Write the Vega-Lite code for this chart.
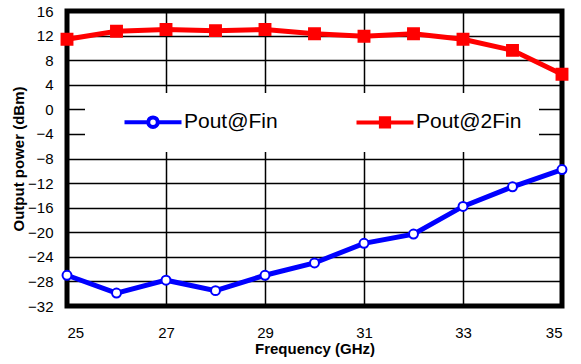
{
  "$schema": "https://vega.github.io/schema/vega-lite/v6.json",
  "width": 495,
  "height": 295,
  "autosize": {"type": "none"},
  "padding": {"left": 67, "top": 11, "right": 19, "bottom": 58},
  "background": "white",
  "config": {
    "view": {"stroke": "black", "strokeWidth": 5},
    "font": "Liberation Sans"
  },
  "data": {
    "values": [
      {"freq": 25, "power": -27.0, "series": "Pout@Fin"},
      {"freq": 26, "power": -29.9, "series": "Pout@Fin"},
      {"freq": 27, "power": -27.8, "series": "Pout@Fin"},
      {"freq": 28, "power": -29.5, "series": "Pout@Fin"},
      {"freq": 29, "power": -27.0, "series": "Pout@Fin"},
      {"freq": 30, "power": -25.0, "series": "Pout@Fin"},
      {"freq": 31, "power": -21.8, "series": "Pout@Fin"},
      {"freq": 32, "power": -20.3, "series": "Pout@Fin"},
      {"freq": 33, "power": -15.8, "series": "Pout@Fin"},
      {"freq": 34, "power": -12.6, "series": "Pout@Fin"},
      {"freq": 35, "power": -9.8, "series": "Pout@Fin"},
      {"freq": 25, "power": 11.4, "series": "Pout@2Fin"},
      {"freq": 26, "power": 12.7, "series": "Pout@2Fin"},
      {"freq": 27, "power": 13.0, "series": "Pout@2Fin"},
      {"freq": 28, "power": 12.8, "series": "Pout@2Fin"},
      {"freq": 29, "power": 13.0, "series": "Pout@2Fin"},
      {"freq": 30, "power": 12.3, "series": "Pout@2Fin"},
      {"freq": 31, "power": 11.9, "series": "Pout@2Fin"},
      {"freq": 32, "power": 12.3, "series": "Pout@2Fin"},
      {"freq": 33, "power": 11.4, "series": "Pout@2Fin"},
      {"freq": 34, "power": 9.6, "series": "Pout@2Fin"},
      {"freq": 35, "power": 5.7, "series": "Pout@2Fin"}
    ]
  },
  "encoding": {
    "x": {
      "field": "freq",
      "type": "quantitative",
      "scale": {"domain": [25, 35], "nice": false, "zero": false},
      "axis": {
        "values": [25, 27, 29, 31, 33, 35],
        "grid": true,
        "gridColor": "black",
        "gridWidth": 1.5,
        "gridOpacity": 1,
        "domain": false,
        "ticks": false,
        "labelPadding": 19,
        "labelFontSize": 15,
        "labelColor": "black",
        "labelFont": "Liberation Sans",
        "title": "Frequency (GHz)",
        "titleFont": "Liberation Sans",
        "titleFontSize": 15,
        "titleFontWeight": "bold",
        "titleColor": "black",
        "titlePadding": 1
      }
    },
    "y": {
      "field": "power",
      "type": "quantitative",
      "scale": {"domain": [-32, 16], "nice": false, "zero": false},
      "axis": {
        "values": [-32, -28, -24, -20, -16, -12, -8, -4, 0, 4, 8, 12, 16],
        "grid": true,
        "gridColor": "black",
        "gridWidth": 1.5,
        "gridOpacity": 1,
        "domain": false,
        "ticks": false,
        "labelPadding": 14,
        "labelFontSize": 15,
        "labelColor": "black",
        "labelFont": "Liberation Sans",
        "title": "Output power (dBm)",
        "titleFont": "Liberation Sans",
        "titleFontSize": 15,
        "titleFontWeight": "bold",
        "titleColor": "black",
        "titlePadding": 1
      }
    }
  },
  "layer": [
    {
      "mark": {"type": "line", "strokeWidth": 5},
      "encoding": {
        "color": {
          "field": "series",
          "type": "nominal",
          "scale": {"domain": ["Pout@Fin", "Pout@2Fin"], "range": ["#0000ff", "#ff0000"]},
          "legend": {
            "orient": "none",
            "legendX": 18,
            "legendY": 82,
            "direction": "horizontal",
            "title": null,
            "fillColor": "white",
            "padding": 17,
            "columnPadding": 56,
            "symbolSize": 400,
            "symbolStrokeWidth": 4,
            "symbolOffset": 39,
            "labelFont": "Liberation Sans",
            "labelFontSize": 21,
            "labelColor": "black",
            "labelOffset": 19,
            "labelExpr": "datum.value === 'Pout@2Fin' ? datum.label + '\u00a0\u00a0\u00a0\u00a0' : datum.label",
            "encode": {
              "symbols": {
                "update": {
                  "shape": {"signal": "datum.value === 'Pout@Fin' ? 'M-2.85,0L-0.475,0M0.475,0L2.85,0M0.475,0A0.475,0.475,0,1,1,-0.475,0A0.475,0.475,0,1,1,0.475,0Z' : 'M-2.85,0L2.85,0M-0.41,-0.41L0.41,-0.41L0.41,0.41L-0.41,0.41Z'"},
                  "fill": {"signal": "datum.value === 'Pout@Fin' ? 'white' : '#ff0000'"},
                  "opacity": {"value": 1}
                }
              }
            }
          }
        }
      }
    },
    {
      "transform": [{"filter": "datum.series === 'Pout@Fin'"}],
      "mark": {"type": "point", "shape": "circle", "size": 80, "filled": true, "fill": "white", "stroke": "#0000ff", "strokeWidth": 2, "opacity": 1}
    },
    {
      "transform": [{"filter": "datum.series === 'Pout@2Fin'"}],
      "mark": {"type": "point", "shape": "square", "size": 130, "filled": true, "fill": "#ff0000", "stroke": "#ff0000", "strokeWidth": 1.5, "opacity": 1}
    }
  ]
}
